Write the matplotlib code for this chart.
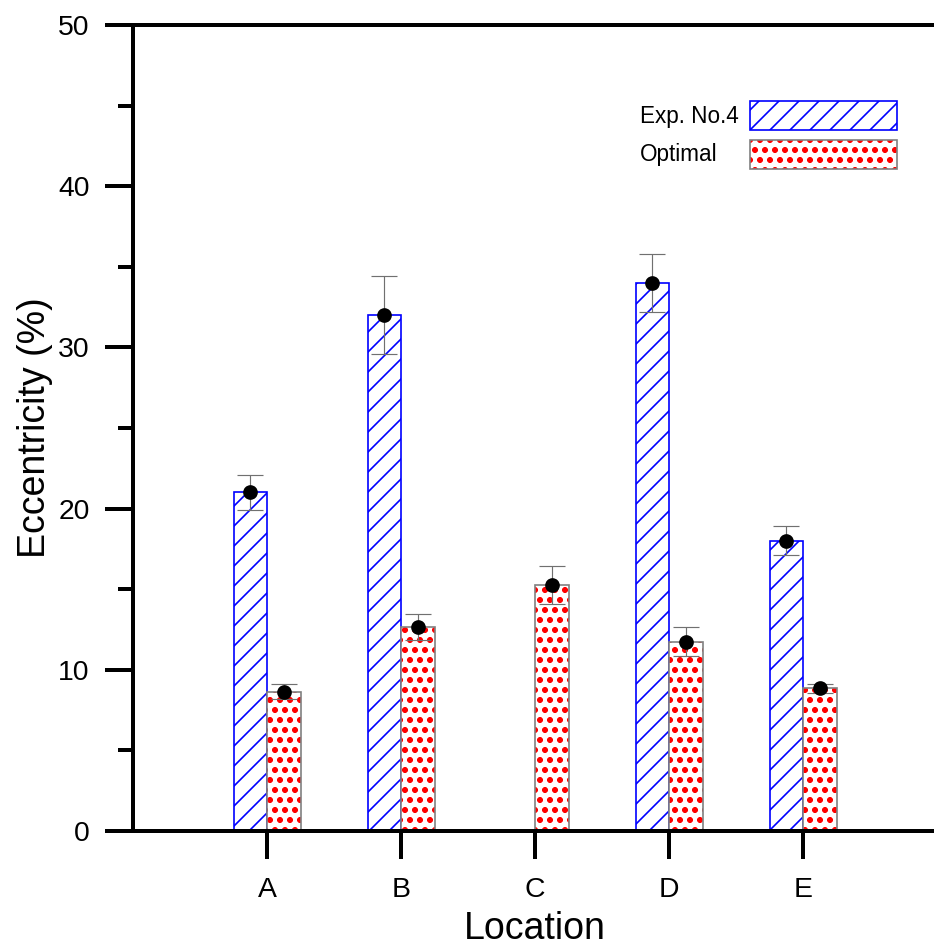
import numpy as np
import matplotlib
matplotlib.use("Agg")
import matplotlib.pyplot as plt
from matplotlib.patches import Patch
from matplotlib.legend_handler import HandlerTuple

plt.rcParams['font.family'] = ['Liberation Sans', 'DejaVu Sans']
plt.rcParams['hatch.linewidth'] = 1.0

categories = ['A', 'B', 'C', 'D', 'E']
exp_values = [21.0, 32.0, np.nan, 34.0, 18.0]
exp_errors = [1.1, 2.4, np.nan, 1.8, 0.9]
opt_values = [8.65, 12.65, 15.27, 11.75, 8.85]
opt_errors = [0.45, 0.8, 1.2, 0.9, 0.3]
series_labels = ['Exp. No.4', 'Optimal']
y_ticks = [0, 10, 20, 30, 40, 50]

DPI = 120
FW, FH = 934, 947
fig = plt.figure(figsize=(FW / DPI, FH / DPI), dpi=DPI)
ax = fig.add_axes([133 / FW, (FH - 831) / FH, 804 / FW, 806 / FH])

x = np.arange(1, len(categories) + 1)
w = 0.25

DOTS = 'oo..'

ax.bar(x - w / 2, exp_values, w, facecolor='white', edgecolor='blue',
       hatch='//', linewidth=1.0, zorder=2)
ax.bar(x + w / 2, opt_values, w, facecolor='white', edgecolor='red',
       hatch=DOTS, linewidth=0, zorder=2)
ax.bar(x + w / 2, opt_values, w, fill=False, edgecolor='#808080',
       linewidth=1.0, zorder=2.1)

for xs, vals, errs in [(x - w / 2, exp_values, exp_errors), (x + w / 2, opt_values, opt_errors)]:
    ax.errorbar(xs, vals, yerr=errs, fmt='none', ecolor='#707070', elinewidth=0.7,
                capsize=8, capthick=0.7, zorder=3)
    ax.plot(xs, vals, 'o', color='black', markersize=7.8, zorder=4)

ax.set_xlim(0, 6)
ax.set_ylim(0, 50)
ax.set_xticks(x)
ax.set_xticklabels(categories)
ax.set_yticks(y_ticks)
ax.set_yticks([5, 15, 25, 35, 45], minor=True)
ax.tick_params(axis='both', which='major', length=17, width=2.4, labelsize=17)
ax.tick_params(axis='y', which='major', pad=9)
ax.tick_params(axis='x', which='major', pad=10.8)
ax.tick_params(axis='y', which='minor', length=9, width=2.4)
ax.tick_params(axis='x', which='minor', length=0)
for s in ['left', 'bottom', 'top']:
    ax.spines[s].set_linewidth(2.4)
ax.spines['right'].set_visible(False)

ax.set_xlabel('Location', fontsize=22.5, labelpad=4.5)
ax.set_ylabel('Eccentricity (%)', fontsize=22.5, labelpad=3)

# legend: handles on the right, labels left-aligned on the left
h1 = Patch(facecolor='white', edgecolor='blue', hatch='//', linewidth=1.0)
h2a = Patch(facecolor='white', edgecolor='red', hatch=DOTS, linewidth=0)
h2b = Patch(fill=False, edgecolor='#808080', linewidth=1.0)

LFS = 13.5
fs_px = LFS * DPI / 72
patch_h = 29.0
hh = (patch_h / fs_px - 0.245) / 0.65
leg = ax.legend([h1, (h2a, h2b)], ['', ''],
                handler_map={tuple: HandlerTuple(ndivide=1, pad=0)},
                loc='upper right', bbox_to_anchor=(897 / FW, 1 - 101 / FH),
                bbox_transform=fig.transFigure, frameon=False, markerfirst=False,
                fontsize=LFS, handlelength=147 / fs_px,
                handleheight=hh,
                labelspacing=9.5 / fs_px, handletextpad=0,
                borderpad=0, borderaxespad=0)

label_centers_px = [116, 154]
for lab, yc in zip(series_labels, label_centers_px):
    fig.text(640 / FW, 1 - yc / FH, lab, fontsize=LFS, ha='left', va='center')

fig.savefig('out.png', dpi=DPI)
